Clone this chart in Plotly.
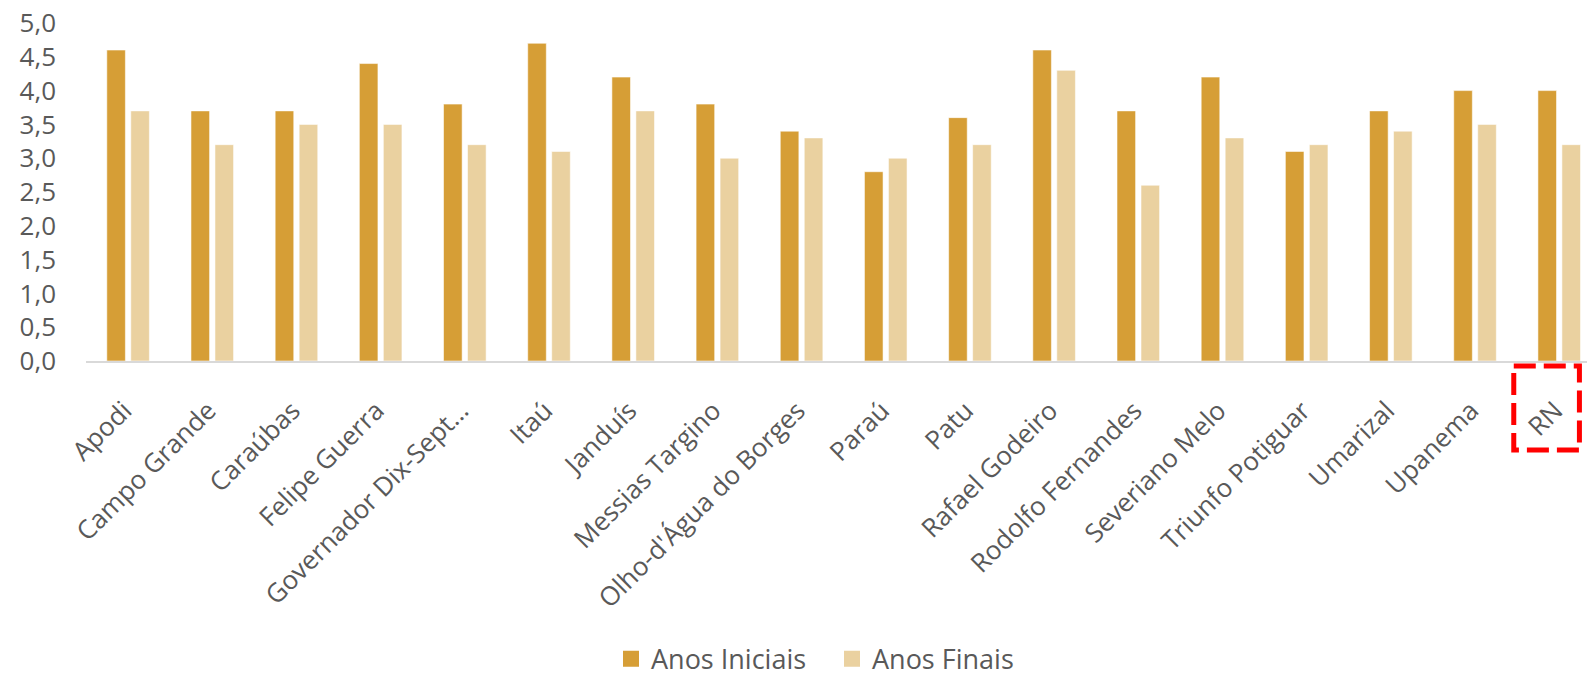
import plotly.graph_objects as go

categories = ["Apodi", "Campo Grande", "Caraúbas", "Felipe Guerra", "Governador Dix-Sept…",
              "Itaú", "Janduís", "Messias Targino", "Olho-d'Água do Borges", "Paraú", "Patu",
              "Rafael Godeiro", "Rodolfo Fernandes", "Severiano Melo", "Triunfo Potiguar",
              "Umarizal", "Upanema", "RN"]
anos_iniciais = [4.6, 3.7, 3.7, 4.4, 3.8, 4.7, 4.2, 3.8, 3.4, 2.8, 3.6, 4.6, 3.7, 4.2, 3.1, 3.7, 4.0, 4.0]
anos_finais = [3.7, 3.2, 3.5, 3.5, 3.2, 3.1, 3.7, 3.0, 3.3, 3.0, 3.2, 4.3, 2.6, 3.3, 3.2, 3.4, 3.5, 3.2]
y_ticks = [0, 0.5, 1, 1.5, 2, 2.5, 3, 3.5, 4, 4.5, 5]
y_tick_labels = ["0,0", "0,5", "1,0", "1,5", "2,0", "2,5", "3,0", "3,5", "4,0", "4,5", "5,0"]
series_names = ["Anos Iniciais", "Anos Finais"]
colors = ["#D69E36", "#EAD1A0"]

FONT = "Open Sans"
TXT = "#595959"

fig = go.Figure()
for name, vals, col in zip(series_names, [anos_iniciais, anos_finais], colors):
    fig.add_trace(go.Bar(
        x=categories, y=vals, name=name, showlegend=False,
        marker=dict(color=col, line=dict(color="rgba(255,255,255,0.55)", width=1)),
    ))
# legend entries with larger square symbols
for name, col in zip(series_names, colors):
    fig.add_trace(go.Scatter(
        x=[None], y=[None], mode="markers", name=name,
        marker=dict(symbol="square", size=17, color=col),
    ))

fig.update_layout(
    width=1587, height=676,
    margin=dict(l=86, r=0, t=23, b=315, autoexpand=False),
    paper_bgcolor="white", plot_bgcolor="white",
    barmode="group", bargap=0.43, bargroupgap=0.225,
    font=dict(family=FONT, size=26, color=TXT),
    showlegend=True,
    legend=dict(orientation="h", x=0.497, xanchor="center", y=-0.81, yanchor="top",
                font=dict(family=FONT, size=27, color=TXT), traceorder="normal",
                itemsizing="trace", entrywidth=176,
                bgcolor="rgba(0,0,0,0)"),
    xaxis=dict(
        type="category", range=[-0.5, 17.33], tickangle=-45, automargin=False,
        showline=True, linecolor="#D9D9D9", linewidth=2,
        showgrid=False, ticks="", ticklabelstandoff=22, ticklabelshift=-4,
        tickfont=dict(family=FONT, size=26, color=TXT),
    ),
    yaxis=dict(
        range=[0, 5], tickvals=y_ticks, ticktext=y_tick_labels, automargin=False,
        showgrid=False, zeroline=False, showline=False, ticks="",
        ticklabelstandoff=29,
        tickfont=dict(family=FONT, size=26, color=TXT),
    ),
    shapes=[dict(
        type="rect", xref="x", yref="paper",
        x0=16.46, x1=17.24, y0=-0.015, y1=-0.263,
        line=dict(color="#FF0000", width=5, dash="22px,8px"),
        fillcolor="rgba(0,0,0,0)",
    )],
)

fig.write_html("out.html", config={"displayModeBar": False},
               post_script="document.body.style.margin='0';document.body.style.overflow='hidden';")
